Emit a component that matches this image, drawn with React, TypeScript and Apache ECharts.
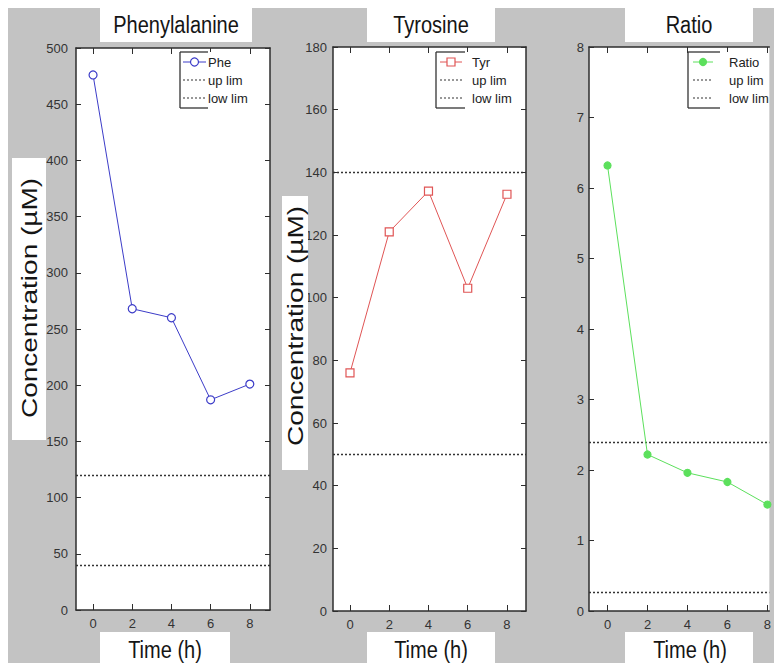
import React, { useEffect, useRef } from "react";
import * as echarts from "echarts";

// ---- data ----
const times = [0, 2, 4, 6, 8];
const pheValues = [476, 268, 260, 187, 201];
const tyrValues = [76, 121, 134, 103, 133];
const ratioValues = [6.32, 2.22, 1.96, 1.83, 1.51];
const pheLimits = [120, 40];
const tyrLimits = [140, 50];
const ratioLimits = [2.4, 0.27];
const panelTitles = ["Phenylalanine", "Tyrosine", "Ratio"];
const seriesNames = ["Phe", "Tyr", "Ratio"];
const limitNames = ["up lim", "low lim"];
const xTickValues = [0, 2, 4, 6, 8];
const yMaxes = [500, 180, 8];
const yIntervals = [50, 20, 1];
const xAxisName = "Time (h)";
const yAxisName = "Concentration (\u00b5M)";

// ---- layout / style (page coordinates) ----
const OFF = 8;
const W = 766;
const H = 655;
const panels = [
  { left: 76, top: 48, width: 194, height: 562, xMin: -0.87, xMax: 9.03, labelMargin: 8, rightFrame: true,
    color: "#3c3cc8", symbol: "circle", symbolSize: 8, filled: false,
    titleBox: [100, 8, 152, 34], titleX: 176,
    timeBox: [100, 632, 130, 31], timeX: 165,
    yBox: [12, 158, 34, 282], yLabelX: 29, yLabelY: 298,
    legend: { left: 180, lineEnd: 208, sx1: 183, sx2: 206, textX: 208 } },
  { left: 333, top: 47, width: 193, height: 564, xMin: -0.866, xMax: 8.97, labelMargin: 6, rightFrame: true,
    color: "#e05555", symbol: "rect", symbolSize: 8, filled: false,
    titleBox: [367, 8, 128, 34], titleX: 431,
    timeBox: [367, 632, 128, 31], timeX: 431,
    yBox: [282, 196, 26, 274], yLabelX: 295, yLabelY: 326,
    legend: { left: 436, lineEnd: 465, sx1: 440, sx2: 462, textX: 472 } },
  { left: 589, top: 47, width: 185, height: 564, xMin: -0.927, xMax: 8.098, labelMargin: 5, rightFrame: false,
    color: "#5ce05c", symbol: "circle", symbolSize: 7, filled: true,
    titleBox: [625, 8, 128, 34], titleX: 689,
    timeBox: [625, 632, 128, 31], timeX: 690,
    yBox: null, yLabelX: 0, yLabelY: 0,
    legend: { left: 688, lineEnd: 720, sx1: 693, sx2: 713, textX: 729 } },
];
const valuesList = [pheValues, tyrValues, ratioValues];
const limitsList = [pheLimits, tyrLimits, ratioLimits];

const FRAME = { color: "#2e2e2e", width: 1.5 };
const TICK_FONT = "'Liberation Sans Narrow', 'Liberation Sans', Arial, sans-serif";
const MAIN_FONT = "'Liberation Sans', Arial, sans-serif";

function buildOption() {
  const grid: any[] = [];
  const xAxis: any[] = [];
  const yAxis: any[] = [];
  const series: any[] = [];
  const graphic: any[] = [];

  panels.forEach((p, i) => {
    grid.push({
      left: p.left - OFF, top: p.top - OFF, width: p.width, height: p.height,
      show: true, backgroundColor: "#ffffff", borderWidth: 0,
    });
    const axisLine = { show: true, onZero: false, lineStyle: { color: FRAME.color, width: FRAME.width } };
    const tickStyle = { color: FRAME.color, width: 1 };
    xAxis.push({
      gridIndex: i, type: "value", min: p.xMin, max: p.xMax, position: "bottom",
      axisLine, splitLine: { show: false },
      axisTick: { show: true, inside: true, length: 6, customValues: xTickValues, lineStyle: tickStyle },
      axisLabel: { show: true, customValues: xTickValues, margin: 7, fontSize: 13, color: "#333", fontFamily: TICK_FONT },
    });
    xAxis.push({
      gridIndex: i, type: "value", min: p.xMin, max: p.xMax, position: "top",
      axisLine, splitLine: { show: false },
      axisTick: { show: true, inside: true, length: 6, customValues: xTickValues, lineStyle: tickStyle },
      axisLabel: { show: false },
    });
    yAxis.push({
      gridIndex: i, type: "value", min: 0, max: yMaxes[i], interval: yIntervals[i], position: "left",
      axisLine, splitLine: { show: false },
      axisTick: { show: true, inside: true, length: 5, lineStyle: tickStyle },
      axisLabel: { show: true, margin: p.labelMargin, fontSize: 13, color: "#333", fontFamily: TICK_FONT },
    });
    yAxis.push({
      gridIndex: i, type: "value", min: 0, max: yMaxes[i], interval: yIntervals[i], position: "right",
      axisLine: { ...axisLine, show: p.rightFrame }, splitLine: { show: false },
      axisTick: { show: p.rightFrame, inside: true, length: 5, lineStyle: tickStyle },
      axisLabel: { show: false },
    });

    const vals = valuesList[i];
    series.push({
      type: "line", name: seriesNames[i], xAxisIndex: i * 2, yAxisIndex: i * 2,
      data: times.map((t, k) => [t, vals[k]]),
      symbol: p.symbol, symbolSize: p.symbolSize, showSymbol: true,
      lineStyle: { color: p.color, width: 1 },
      itemStyle: { color: p.filled ? p.color : "#ffffff", borderColor: p.color, borderWidth: 1.2 },
      z: 5,
      markLine: {
        silent: true, symbol: "none", label: { show: false },
        lineStyle: { type: [2, 2], color: "#333", width: 1.4 },
        data: limitsList[i].map((v) => ({ yAxis: v })),
      },
    });

    // title box
    const tb = p.titleBox;
    graphic.push({ type: "rect", shape: { x: tb[0] - OFF, y: tb[1] - OFF, width: tb[2], height: tb[3] }, style: { fill: "#fff" }, z: 1 });
    graphic.push({ type: "text", x: p.titleX - OFF, y: 25 - OFF, scaleX: 0.87, z: 2,
      style: { text: panelTitles[i], fontSize: 23, fontFamily: MAIN_FONT, fill: "#151515", align: "center", verticalAlign: "middle" } });
    // time box
    const xb = p.timeBox;
    graphic.push({ type: "rect", shape: { x: xb[0] - OFF, y: xb[1] - OFF, width: xb[2], height: xb[3] }, style: { fill: "#fff" }, z: 1 });
    graphic.push({ type: "text", x: p.timeX - OFF, y: 650 - OFF, scaleX: 0.87, z: 2,
      style: { text: xAxisName, fontSize: 23, fontFamily: MAIN_FONT, fill: "#151515", align: "center", verticalAlign: "middle" } });
    // y label box
    if (p.yBox) {
      const yb = p.yBox;
      graphic.push({ type: "rect", shape: { x: yb[0] - OFF, y: yb[1] - OFF, width: yb[2], height: yb[3] }, style: { fill: "#fff" }, z: 1 });
      graphic.push({ type: "text", x: p.yLabelX - OFF, y: p.yLabelY - OFF, rotation: Math.PI / 2, scaleY: 0.78, z: 2,
        style: { text: yAxisName, fontSize: 28, fontFamily: MAIN_FONT, fill: "#151515", align: "center", verticalAlign: "middle" } });
    }
    // legend
    const lg = p.legend;
    const L = lg.left - OFF;
    const E = lg.lineEnd - OFF;
    const legStroke = { stroke: "#333", lineWidth: 1.3 };
    graphic.push({ type: "rect", shape: { x: L, y: 52 - OFF, width: E - L + 40, height: 56 }, style: { fill: "#fff" }, z: 6 });
    graphic.push({ type: "line", shape: { x1: L, y1: 52 - OFF, x2: L, y2: 108 - OFF }, style: legStroke, z: 7 });
    graphic.push({ type: "line", shape: { x1: L, y1: 52 - OFF, x2: E, y2: 52 - OFF }, style: legStroke, z: 7 });
    graphic.push({ type: "line", shape: { x1: L, y1: 108 - OFF, x2: E, y2: 108 - OFF }, style: legStroke, z: 7 });
    const rows = [62, 80, 98];
    const names = [seriesNames[i], ...limitNames];
    rows.forEach((ry, r) => {
      const y = ry - OFF;
      if (r === 0) {
        graphic.push({ type: "line", shape: { x1: lg.sx1 - OFF, y1: y, x2: lg.sx2 - OFF, y2: y }, style: { stroke: p.color, lineWidth: 1 }, z: 7 });
        const cx = (lg.sx1 + lg.sx2) / 2 - OFF;
        if (p.symbol === "rect") {
          graphic.push({ type: "rect", shape: { x: cx - 4, y: y - 4, width: 8, height: 8 }, style: { fill: "#fff", stroke: p.color, lineWidth: 1.2 }, z: 8 });
        } else {
          graphic.push({ type: "circle", shape: { cx, cy: y, r: p.filled ? 3.5 : 4 }, style: { fill: p.filled ? p.color : "#fff", stroke: p.color, lineWidth: 1.2 }, z: 8 });
        }
      } else {
        graphic.push({ type: "line", shape: { x1: lg.sx1 - OFF, y1: y, x2: lg.sx2 - OFF, y2: y }, style: { stroke: "#333", lineWidth: 1.2, lineDash: [2, 2] }, z: 7 });
      }
      graphic.push({ type: "text", x: lg.textX - OFF, y, z: 8,
        style: { text: names[r], fontSize: 13, fontFamily: TICK_FONT, fill: "#222", align: "left", verticalAlign: "middle" } });
    });
  });

  return {
    animation: false,
    backgroundColor: "#c3c3c3",
    grid, xAxis, yAxis, series, graphic,
  };
}

export default function App() {
  const ref = useRef<HTMLDivElement>(null);
  useEffect(() => {
    if (!ref.current) return;
    const chart = echarts.init(ref.current, null, { renderer: "svg" });
    chart.setOption(buildOption() as any);
    return () => chart.dispose();
  }, []);
  return (
    <div
      ref={ref}
      style={{ position: "absolute", left: OFF, top: OFF, width: W, height: H, overflow: "hidden" }}
    />
  );
}
